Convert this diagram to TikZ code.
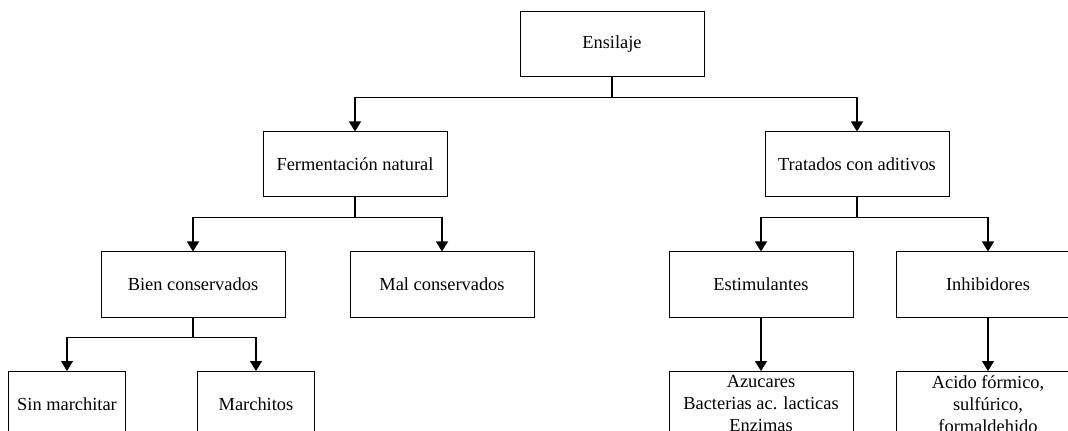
\documentclass[tikz,border=0pt]{standalone}
\usepackage{fontspec}
\setmainfont{Liberation Serif}
\usetikzlibrary{arrows.meta}

\begin{document}
\begin{tikzpicture}[x=0.75pt,y=-0.75pt,
        caja/.style={draw, line width=0.75pt, minimum width=138pt, minimum height=48.75pt,
            inner sep=1pt, align=center, font=\fontsize{13.8}{16.5}\selectfont},
        cajita/.style={caja, minimum width=87.75pt},
        flecha/.style={-{Triangle[length=7.5pt,width=9pt]}, line width=0.9pt}]
        \clip (0,0) rectangle (1068,431);
        \node [caja] (ens) at (612,44.5) {Ensilaje};
        \node [caja] (ferm) at (355,164.5) {Fermentación natural};
        \node [caja] (trat) at (857,164.5) {Tratados con aditivos};
        \node [caja] (bien) at (193,284.5) {Bien conservados};
        \node [caja] (mal) at (442,284.5) {Mal conservados};
        \node [caja] (estim) at (761,284.5) {Estimulantes};
        \node [caja] (inhib) at (988,284.5) {Inhibidores};
        \node [cajita] (sinm) at (67,404) {Sin marchitar};
        \node [cajita] (march) at (256,404) {Marchitos};
        \node [caja] (azuc) at (761,404) {Azucares\\Bacterias ac. lacticas\\Enzimas};
        \node [caja] (acido) at (988,404) {Acido fórmico,\\sulfúrico,\\formaldehido};
        \draw [flecha] (ens.south) -- ++(0,20) -| (ferm.north);
        \draw [flecha] (ens.south) -- ++(0,20) -| (trat.north);
        \draw [flecha] (ferm.south) -- ++(0,20) -| (bien.north);
        \draw [flecha] (ferm.south) -- ++(0,20) -| (mal.north);
        \draw [flecha] (trat.south) -- ++(0,20) -| (estim.north);
        \draw [flecha] (trat.south) -- ++(0,20) -| (inhib.north);
        \draw [flecha] (bien.south) -- ++(0,20) -| (sinm.north);
        \draw [flecha] (bien.south) -- ++(0,20) -| (march.north);
        \draw [flecha] (estim.south) -- (azuc.north);
        \draw [flecha] (inhib.south) -- (acido.north);
\end{tikzpicture}
\end{document}
